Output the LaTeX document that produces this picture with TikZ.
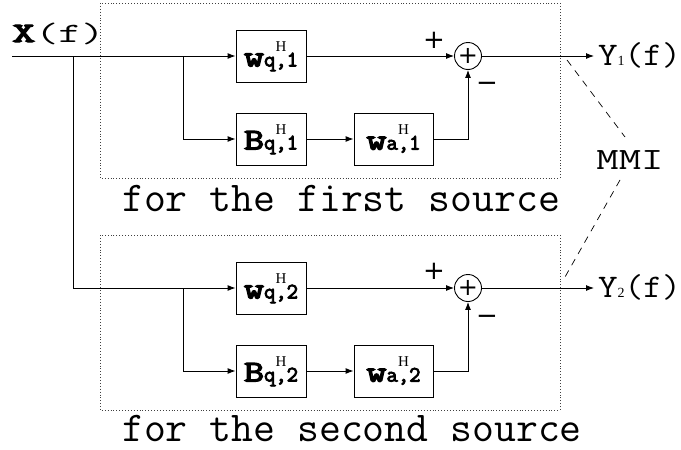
\documentclass[tikz,border=0pt]{standalone}
\usepackage{fontspec}
\usepackage{graphicx}
\setmainfont{Liberation Serif}
\newfontfamily\symfont{DejaVu Sans}
\newfontfamily\slabbold{Latin Modern Mono}[FakeBold=4]
\usetikzlibrary{arrows.meta}

\newcommand{\fsz}[1]{\fontsize{#1}{#1}\selectfont}
% block label: bold letter, superscript H stacked over a bold subscript
\newcommand{\blocklabel}[2]{%
  \scalebox{1.3}[1]{\slabbold\fsz{30}#1}%
  {\fsz{15}\begin{tabular}[b]{@{}c@{}}H\\[-3pt]{\slabbold\fsz{22}#2}\end{tabular}}}

\tikzset{
  wire/.style={line width=0.9pt},
  arr/.style={wire,-{Latex[length=8pt,width=6pt]}},
  blk/.style={draw,line width=0.9pt,minimum width=70pt,minimum height=52pt,inner sep=0pt},
  summer/.style={draw,circle,line width=0.9pt,minimum size=27pt,inner sep=0pt},
  frame/.style={draw=black!75,dotted,line width=0.9pt},
  sign/.style={inner sep=0pt,font=\symfont\fsz{26}},
  caption/.style={inner sep=0pt,font=\ttfamily\fsz{42.5}},
}

\begin{document}
\begin{tikzpicture}[x=1pt,y=-1pt]
\useasboundingbox (0,0) rectangle (681,450);

% dotted frames around the two source branches
\draw[frame] (100,3) rectangle (560,178);
\draw[frame] (100,235) rectangle (560,410);

% first source
\node[blk] (wq1) at (271,56) {\blocklabel{w}{q,1}};
\node[blk] (bq1) at (271,139) {\blocklabel{B}{q,1}};
\node[blk, minimum width=79pt] (wa1) at (393.5,139) {\blocklabel{w}{a,1}};
\node[summer] (s1) at (468,56) {\symfont\fsz{24}+};

% second source
\node[blk] (wq2) at (271,288) {\blocklabel{w}{q,2}};
\node[blk] (bq2) at (271,371) {\blocklabel{B}{q,2}};
\node[blk, minimum width=79pt] (wa2) at (393.5,371) {\blocklabel{w}{a,2}};
\node[summer] (s2) at (468,288) {\symfont\fsz{24}+};

% signs at the summing points
\node[sign] (p1) at (434,40) {+};
\node[sign] (m1) at (487,87) {−};
\node[sign] (p2) at (434,271) {+};
\node[sign] (m2) at (487,320) {−};

% input and taps
\coordinate (in) at (12,56);
\coordinate (t0) at (73,56);
\coordinate (t1) at (183,56);
\coordinate (t2) at (183,288);
\coordinate (o1) at (594,56);
\coordinate (o2) at (594,288);

\draw[arr] (in) -- (wq1.west);
\draw[arr] (t1) |- (bq1.west);
\draw[arr] (bq1) -- (wa1);
\draw[arr] (wq1) -- (s1);
\draw[arr] (wa1.east) -| (s1.south);
\draw[arr] (s1) -- (o1);

\draw[arr] (t0) |- (wq2.west);
\draw[arr] (t2) |- (bq2.west);
\draw[arr] (bq2) -- (wa2);
\draw[arr] (wq2) -- (s2);
\draw[arr] (wa2.east) -| (s2.south);
\draw[arr] (s2) -- (o2);

% signal labels
\node[anchor=base west,inner sep=0pt] (x) at (12,42)
  {\scalebox{1.6}[1]{\slabbold\fsz{28}X}\scalebox{1.6}[1]{\ttfamily\fsz{28}(f)}};
\node[anchor=west,inner sep=0pt] (y1) at (598,55)
  {\scalebox{1.15}[1]{\ttfamily\fsz{33}Y}{\fsz{14}1}\scalebox{1.1}[1]{\ttfamily\fsz{33}(f)}};
\node[anchor=west,inner sep=0pt] (y2) at (598,287)
  {\scalebox{1.15}[1]{\ttfamily\fsz{33}Y}{\fsz{14}2}\scalebox{1.1}[1]{\ttfamily\fsz{33}(f)}};
\node[inner sep=0pt] (mmi) at (630,160)
  {\scalebox{1.4}[1]{\ttfamily\fsz{31}MMI}};

% mutual-information links
\coordinate (d1a) at (567,60);
\coordinate (d1b) at (625,137);
\coordinate (d2a) at (620,180);
\coordinate (d2b) at (565,277);
\draw[wire,line width=0.7pt,dash pattern=on 7pt off 6pt] (d1a) -- (d1b);
\draw[wire,line width=0.7pt,dash pattern=on 7pt off 6pt] (d2a) -- (d2b);

% frame captions
\node[caption,anchor=base west] (c1) at (122,211) {for the first source};
\node[caption,anchor=base west] (c2) at (122,441) {for the second source};
\end{tikzpicture}
\end{document}
